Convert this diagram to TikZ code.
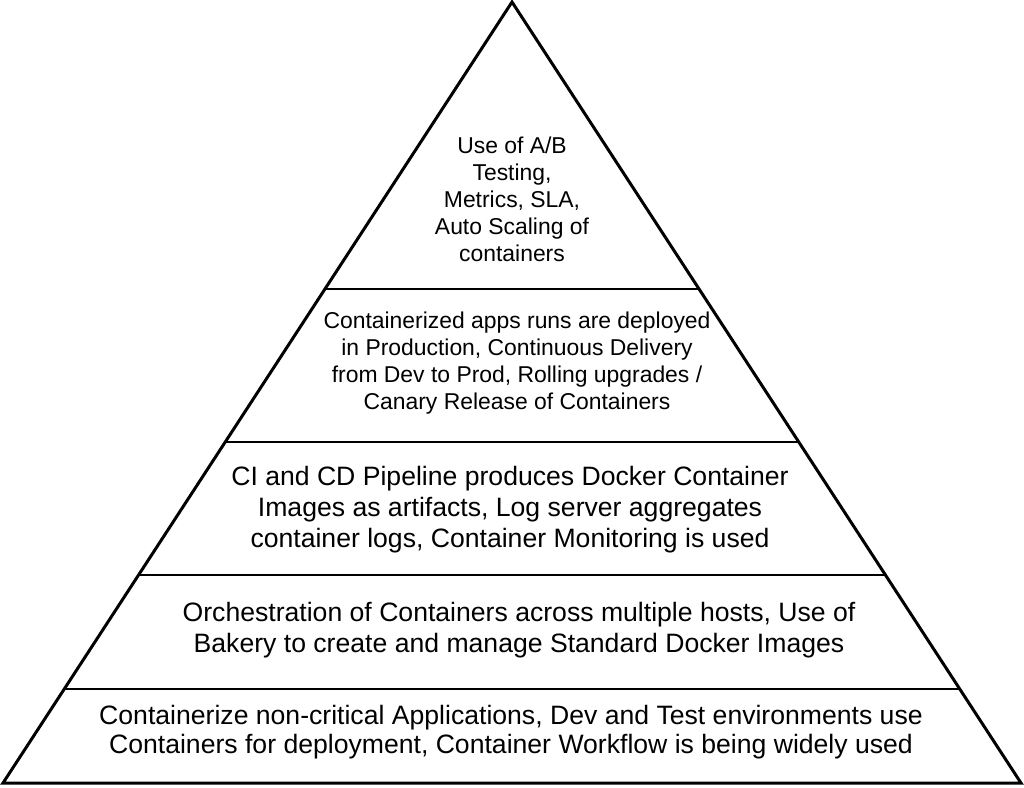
\documentclass[tikz,border=0pt]{standalone}
\usepackage{fontspec}
\setmainfont{Liberation Sans}
\usetikzlibrary{calc}
\begin{document}
\begin{tikzpicture}[x=1pt,y=-1pt,
  outline/.style={line width=3pt,line join=miter},
  divider/.style={line width=1.8pt},
  bigtxt/.style={align=center,font=\fontsize{26.6}{31}\selectfont,inner sep=0pt},
  smalltxt/.style={align=center,font=\fontsize{22.9}{27}\selectfont,inner sep=0pt}]
\useasboundingbox (0,0) rectangle (1024,787);
\coordinate (apex) at (512,2);
\coordinate (bl) at (3,783);
\coordinate (br) at (1021,783);
\foreach \t/\n in {0.3675/a,0.5634/b,0.7337/c,0.8796/d}{
  \coordinate (l\n) at ($(apex)!\t!(bl)$);
  \coordinate (r\n) at ($(apex)!\t!(br)$);
  \draw[divider] (l\n) -- (r\n);
}
\draw[outline] (apex) -- (br) -- (bl) -- cycle;
\node[smalltxt] (t1) at (512,199) {Use of A/B\\Testing,\\Metrics, SLA,\\Auto Scaling of\\containers};
\node[smalltxt] (t2) at (517,363) {Containerized apps runs are deployed\\in Production, Continuous Delivery\\from Dev to Prod, Rolling upgrades /\\Canary Release of Containers};
\node[bigtxt] (t3) at (510,510) {CI and CD Pipeline produces Docker Container\\Images as artifacts, Log server aggregates\\container logs, Container Monitoring is used};
\node[bigtxt] (t4) at (519,630) {Orchestration of Containers across multiple hosts, Use of\\Bakery to create and manage Standard Docker Images};
\node[bigtxt,font=\fontsize{26.6}{29.5}\selectfont] (t5) at (511,732) {Containerize non-critical Applications, Dev and Test environments use\\Containers for deployment, Container Workflow is being widely used};
\end{tikzpicture}
\end{document}
